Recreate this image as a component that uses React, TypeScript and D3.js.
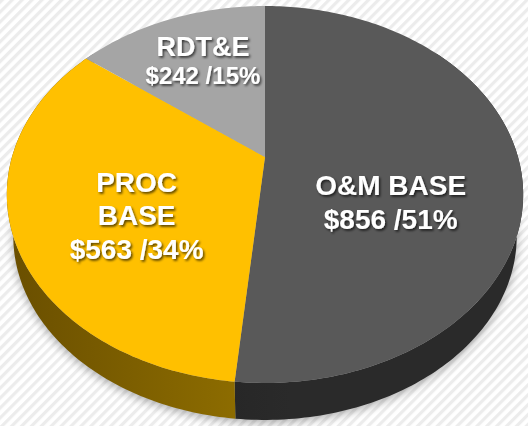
import React from "react";
import * as d3 from "d3";

const categories = ["O&M BASE", "PROC BASE", "RDT&E"];
const values = [856, 563, 242];
const percents = ["51%", "34%", "15%"];
const labelLines = [["O&M BASE"], ["PROC", "BASE"], ["RDT&E"]];

const topColors = ["#595959", "#ffc000", "#a5a5a5"];
const sideColorsA = ["#1c1c1c", "#6a4f00", "#7a7a7a"];
const sideColorsB = ["#2a2a2a", "#957300", "#8a8a8a"];

// layout / style
const W = 528, H = 426;
const cx = 265, cy = 157;
const a = 253, b = 181, k = 0.199;
const botScale = 0.975, botDrop = 42.6;
// label placement in pie space: angle offset (deg) from slice middle, radius fraction
const labelPlace = [
  { dAng: 24, r: 0.53, size: 28, size2: 28, lh: 34 },
  { dAng: -9, r: 0.565, size: 28, size2: 28, lh: 33.5 },
  { dAng: 1.4, r: 0.653, size: 27, size2: 24, lh: 28 },
];

function proj(theta: number, r: number, bottom: boolean): [number, number] {
  const X = r * Math.sin(theta);
  const Z = -r * Math.cos(theta);
  const w = 1 - k * Z;
  const s = bottom ? botScale : 1;
  const D = bottom ? botDrop : 0;
  return [cx + (s * a * X) / w, cy + (s * b * Z) / w + D];
}

function arcPts(s: number, e: number, bottom: boolean) {
  const n = Math.max(2, Math.ceil(((e - s) * 180) / Math.PI));
  return d3.range(n + 1).map((i) => proj(s + ((e - s) * i) / n, 1, bottom));
}

export default function App() {
  const pie = d3
    .pie<number>()
    .sort(null)
    .value((d) => d);
  const arcs = pie(values);
  const line = d3.line();

  const visS = Math.PI / 2 - 0.7;
  const visE = (3 * Math.PI) / 2 + 0.7;

  const full = arcPts(0, 2 * Math.PI, true).map(([x, y]) => [x, y + 3] as [number, number]);

  return (
    <svg
      width={W}
      height={H}
      style={{ position: "absolute", left: 0, top: 0 }}
      fontFamily="'Liberation Sans', Arial, sans-serif"
    >
      <defs>
        <pattern
          id="stripes"
          width="7"
          height="7"
          patternUnits="userSpaceOnUse"
          patternTransform="rotate(45)"
        >
          <rect width="7" height="7" fill="#ffffff" />
          <rect width="3.2" height="7" fill="#ececec" />
        </pattern>
        <filter id="blur" x="-20%" y="-20%" width="140%" height="140%">
          <feGaussianBlur stdDeviation="5" />
        </filter>
        <filter id="tshadow" x="-20%" y="-30%" width="140%" height="160%">
          <feDropShadow dx="1.5" dy="1.8" stdDeviation="1.1" floodColor="#000" floodOpacity="0.65" />
        </filter>
        {arcs.map((_, i) => (
          <linearGradient
            key={i}
            id={`side${i}`}
            gradientUnits="userSpaceOnUse"
            x1={cx - a}
            x2={cx + a * 0.1}
            y1={0}
            y2={0}
          >
            <stop offset="0" stopColor={sideColorsA[i]} />
            <stop offset="1" stopColor={sideColorsB[i]} />
          </linearGradient>
        ))}
      </defs>
      <rect width={W} height={H} fill="url(#stripes)" />
      <path d={line(full) + "Z"} fill="#000" opacity={0.3} filter="url(#blur)" />
      {arcs.map((d, i) => {
        const s = Math.max(d.startAngle, visS);
        const e = Math.min(d.endAngle, visE);
        if (e <= s) return null;
        const top = arcPts(s, e, false);
        const bot = arcPts(s, e, true).reverse();
        return (
          <path
            key={"side" + i}
            d={line([...top, ...bot]) + "Z"}
            fill={`url(#side${i})`}
          />
        );
      })}
      {arcs.map((d, i) => {
        const pts = [proj(0, 0, false), ...arcPts(d.startAngle, d.endAngle, false)];
        return (
          <path
            key={"top" + i}
            d={line(pts) + "Z"}
            fill={topColors[i]}
          />
        );
      })}
      {arcs.map((d, i) => {
        const lp = labelPlace[i];
        const mid = (d.startAngle + d.endAngle) / 2 + (lp.dAng * Math.PI) / 180;
        const [x, y] = proj(mid, lp.r, false);
        const lines = [...labelLines[i], `$${values[i]} /${percents[i]}`];
        const n = lines.length;
        const cap = lp.size * 0.7;
        const b1 = y - ((n - 1) * lp.lh - cap) / 2;
        return (
          <g key={"lab" + i} filter="url(#tshadow)">
            {lines.map((t, j) => (
              <text
                key={j}
                x={x}
                y={b1 + j * lp.lh}
                textAnchor="middle"
                fill="#ffffff"
                fontWeight="bold"
                fontSize={j === n - 1 ? lp.size2 : lp.size}
              >
                {t}
              </text>
            ))}
          </g>
        );
      })}
    </svg>
  );
}
